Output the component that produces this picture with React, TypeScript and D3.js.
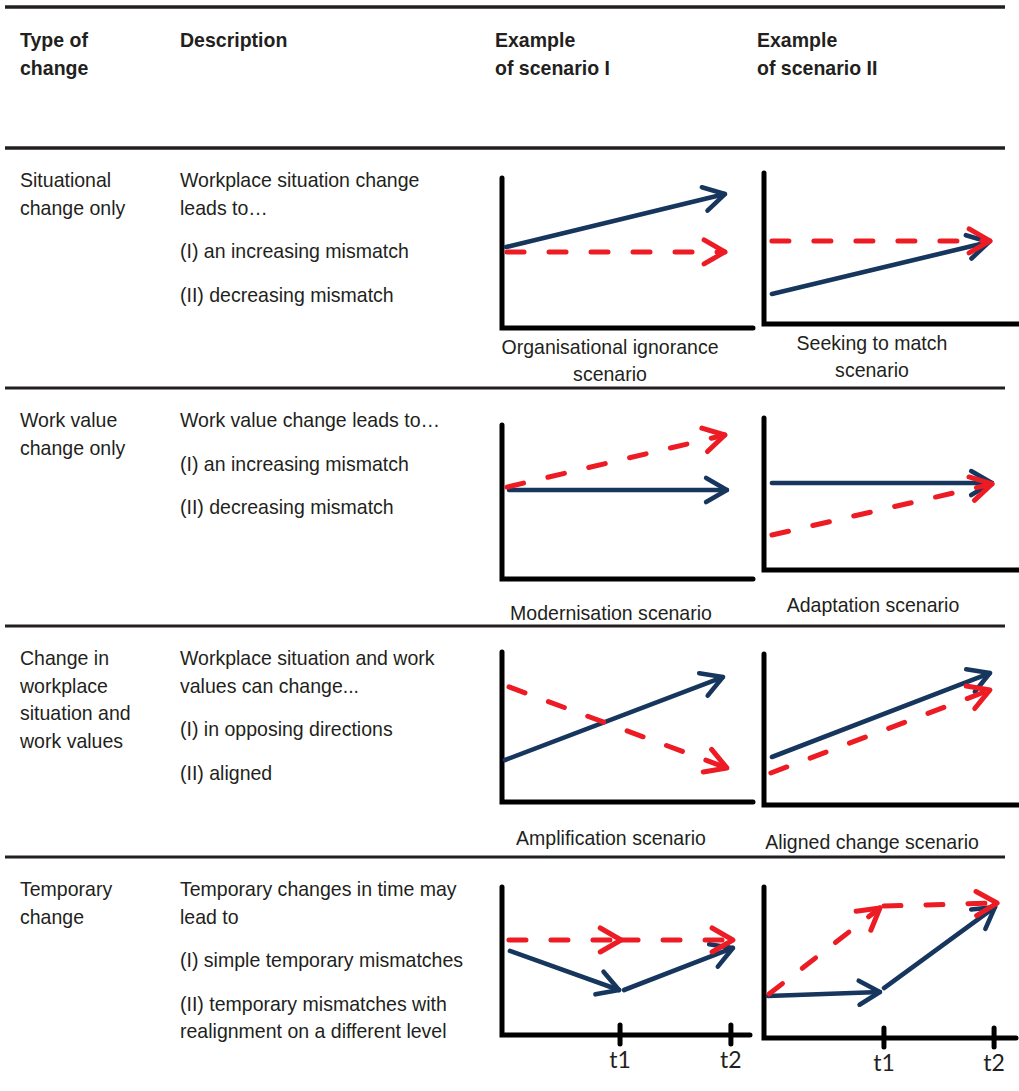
import * as d3 from 'd3'

type Pt = [number, number]
type Seg = Pt[]

// table text
const headerCells = [['Type of', 'change'], ['Description'], ['Example', 'of scenario I'], ['Example', 'of scenario II']]
const changeTypes = [
  ['Situational', 'change only'],
  ['Work value', 'change only'],
  ['Change in', 'workplace', 'situation and', 'work values'],
  ['Temporary', 'change'],
]
const descriptions = [
  [['Workplace situation change', 'leads to…'], ['(I) an increasing mismatch'], ['(II) decreasing mismatch']],
  [['Work value change leads to…'], ['(I) an increasing mismatch'], ['(II) decreasing mismatch']],
  [['Workplace situation and work', 'values can change...'], ['(I) in opposing directions'], ['(II) aligned']],
  [
    ['Temporary changes in time may', 'lead to'],
    ['(I) simple temporary mismatches'],
    ['(II) temporary mismatches with', 'realignment on a different level'],
  ],
]
const scenarioLabels = [
  ['Organisational ignorance', 'scenario'],
  ['Seeking to match', 'scenario'],
  ['Modernisation scenario'],
  ['Adaptation scenario'],
  ['Amplification scenario'],
  ['Aligned change scenario'],
  [],
  [],
]

// arrows, in axis units 0..10 (situation = solid blue, work values = dashed red)
const ignoranceSituation: Seg[] = [[[0.16, 5.4], [8.88, 8.93]]]
const ignoranceValues: Seg[] = [[[0.2, 5.07], [8.88, 5.07]]]
const seekingSituation: Seg[] = [[[0.31, 1.99], [8.82, 5.43]]]
const seekingValues: Seg[] = [[[0.31, 5.5], [8.86, 5.5]]]
const modernSituation: Seg[] = [[[0.28, 5.78], [8.96, 5.78]]]
const modernValues: Seg[] = [[[0.2, 5.97], [8.88, 9.35]]]
const adaptSituation: Seg[] = [[[0.31, 5.72], [8.94, 5.72]]]
const adaptValues: Seg[] = [[[0.31, 2.3], [8.94, 5.66]]]
const amplifSituation: Seg[] = [[[0.12, 2.8], [8.8, 8.33]]]
const amplifValues: Seg[] = [[[0.28, 7.67], [8.96, 2.27]]]
const alignedSituation: Seg[] = [[[0.31, 3.18], [8.86, 8.74]]]
const alignedValues: Seg[] = [[[0.27, 2.12], [8.86, 7.62]]]
const simpleSituation: Seg[] = [[[0.32, 5.68], [4.72, 3.04]], [[4.92, 3.04], [9.31, 5.88]]]
const simpleValues: Seg[] = [[[0.28, 6.42], [4.8, 6.42]], [[4.8, 6.42], [9.31, 6.42]]]
const realignSituation: Seg[] = [[[0.16, 2.78], [4.6, 3.05]], [[4.76, 3.31], [9.17, 8.68]]]
const realignValues: Seg[] = [[[0.2, 2.91], [4.6, 8.61]], [[4.76, 8.74], [9.25, 8.94]]]

const timeLabels = ['t1', 't2']
const simpleTicks = [4.76, 9.23]
const realignTicks = [4.76, 9.13]

const panelSeries = [
  [ignoranceSituation, ignoranceValues],
  [seekingSituation, seekingValues],
  [modernSituation, modernValues],
  [adaptSituation, adaptValues],
  [amplifSituation, amplifValues],
  [alignedSituation, alignedValues],
  [simpleSituation, simpleValues],
  [realignSituation, realignValues],
]
const panelTicks: number[][] = [[], [], [], [], [], [], simpleTicks, realignTicks]

// layout
const W = 1019
const H = 1091
const boxes = [
  { left: 502, right: 753, top: 178, base: 328, labelX: 610, labelY: 354 },
  { left: 764, right: 1019, top: 173, base: 324, labelX: 872, labelY: 350 },
  { left: 502, right: 753, top: 425, base: 579, labelX: 611, labelY: 620 },
  { left: 764, right: 1019, top: 418, base: 570, labelX: 873, labelY: 612 },
  { left: 502, right: 753, top: 652, base: 802, labelX: 611, labelY: 845 },
  { left: 764, right: 1019, top: 654, base: 805, labelX: 872, labelY: 849 },
  { left: 502, right: 750, top: 887, base: 1035, labelX: 0, labelY: 0 },
  { left: 764, right: 1016, top: 887, base: 1038, labelX: 0, labelY: 0 },
]
const rowRules = [148, 388, 626, 857]
const colX = [20, 180, 495, 757]

const INK = '#231f20'
const BLUE = '#17365d'
const RED = '#ed1c24'
const FONT = "'Liberation Sans', Arial, sans-serif"
const SQUEEZE = 0.93

const Txt = ({ x, y, children, bold = false, anchor = 'start' }: any) => (
  <text
    transform={`translate(${x},${y}) scale(${SQUEEZE},1)`}
    fontFamily={FONT}
    fontSize={21}
    fontWeight={bold ? 700 : 400}
    fill={INK}
    textAnchor={anchor}
  >
    {children}
  </text>
)

const arrowHead = (p0: Pt, p1: Pt, len = 24, spread = Math.PI / 6) => {
  const a = Math.atan2(p1[1] - p0[1], p1[0] - p0[0])
  const l: Pt = [p1[0] - len * Math.cos(a - spread), p1[1] - len * Math.sin(a - spread)]
  const r: Pt = [p1[0] - len * Math.cos(a + spread), p1[1] - len * Math.sin(a + spread)]
  return d3.line()([l, p1, r]) as string
}

const Panel = ({ i }: { i: number }) => {
  const b = boxes[i]
  const x = d3.scaleLinear().domain([0, 10]).range([b.left, b.right])
  const y = d3.scaleLinear().domain([0, 10]).range([b.base, b.top])
  const line = d3
    .line<Pt>()
    .x((d) => x(d[0]))
    .y((d) => y(d[1]))
  const [situation, values] = panelSeries[i]
  const px = (s: Seg) => s.map((d) => [x(d[0]), y(d[1])] as Pt)
  return (
    <g>
      <path
        d={`M${b.left},${b.top}L${b.left},${b.base}L${b.right},${b.base}`}
        fill="none"
        stroke="#000"
        strokeWidth={5}
        strokeLinecap="round"
      />
      {panelTicks[i].map((t, k) => (
        <g key={k}>
          <line x1={x(t)} x2={x(t)} y1={b.base - 10} y2={b.base + 9} stroke="#000" strokeWidth={5} strokeLinecap="round" />
          <text x={x(t)} y={b.base + 33} textAnchor="middle" fontFamily="Lato, 'Open Sans', sans-serif" fontSize={23} fill={INK}>
            {timeLabels[k]}
          </text>
        </g>
      ))}
      {situation.map((s, k) => {
        const p = px(s)
        return (
          <g key={'s' + k} fill="none" stroke={BLUE} strokeWidth={4.6} strokeLinecap="round" strokeLinejoin="round">
            <path d={line(s) as string} />
            <path d={arrowHead(p[p.length - 2], p[p.length - 1])} />
          </g>
        )
      })}
      {values.map((s, k) => {
        const p = px(s)
        return (
          <g key={'v' + k} fill="none" stroke={RED} strokeWidth={5} strokeLinecap="round" strokeLinejoin="round">
            <path d={line(s) as string} strokeDasharray="17 25" />
            <path d={arrowHead(p[p.length - 2], p[p.length - 1])} />
          </g>
        )
      })}
      {scenarioLabels[i].map((t, k) => (
        <Txt key={k} x={b.labelX} y={b.labelY + k * 26.5} anchor="middle">
          {t}
        </Txt>
      ))}
    </g>
  )
}

export default function App() {
  return (
    <svg width={W} height={H} style={{ position: 'absolute', left: 0, top: 0, background: '#fff' }}>
      <rect width={W} height={H} fill="#fff" />
      <line x1={5} x2={1005} y1={7} y2={7} stroke={INK} strokeWidth={3.5} />
      {rowRules.map((r, i) => (
        <line key={i} x1={5} x2={1005} y1={r} y2={r} stroke={INK} strokeWidth={i === 0 ? 3.5 : 3} />
      ))}
      {headerCells.map((cell, c) =>
        cell.map((t, k) => (
          <Txt key={c + '-' + k} x={colX[c]} y={47 + k * 28} bold>
            {t}
          </Txt>
        ))
      )}
      {changeTypes.map((lines, r) =>
        lines.map((t, k) => (
          <Txt key={r + '-' + k} x={colX[0]} y={rowRules[r] + 39 + k * 27.7}>
            {t}
          </Txt>
        ))
      )}
      {descriptions.map((paras, r) => {
        let yy = rowRules[r] + 39
        const out: any[] = []
        paras.forEach((para, p) => {
          if (p > 0) yy += 43.5
          para.forEach((t, k) => {
            if (k > 0) yy += 27.5
            out.push(
              <Txt key={r + '-' + p + '-' + k} x={colX[1]} y={yy}>
                {t}
              </Txt>
            )
          })
        })
        return <g key={r}>{out}</g>
      })}
      {boxes.map((_, i) => (
        <Panel key={i} i={i} />
      ))}
    </svg>
  )
}
